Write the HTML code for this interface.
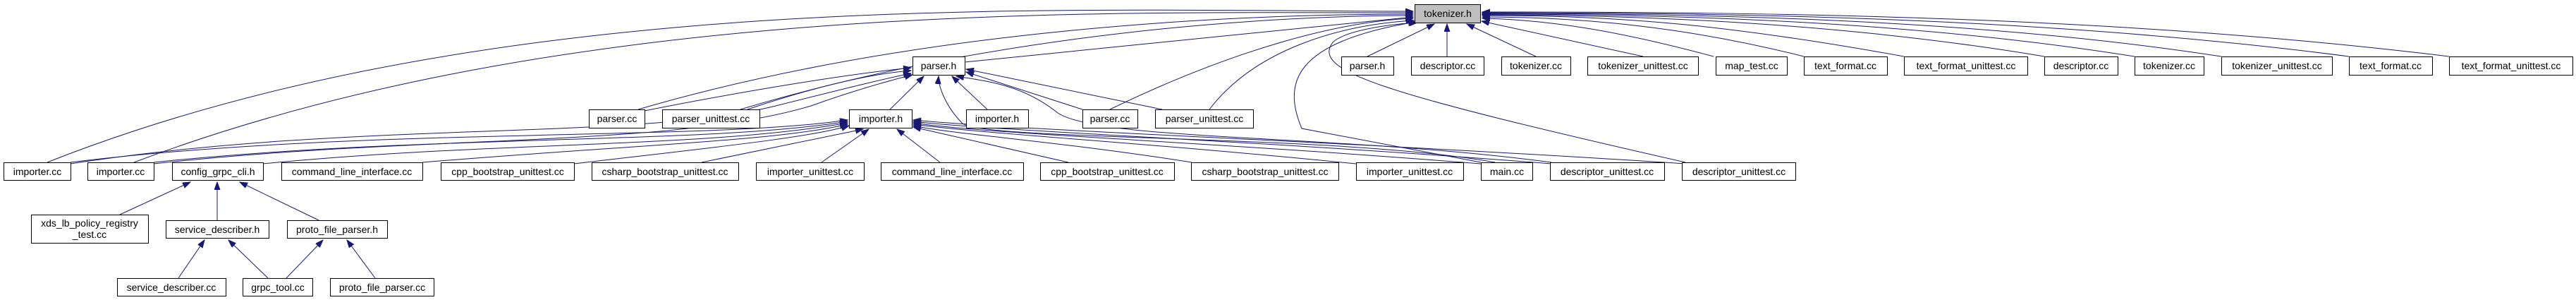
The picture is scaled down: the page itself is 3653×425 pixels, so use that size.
<!DOCTYPE html>
<html><head><meta charset="utf-8"><style>
html,body{margin:0;padding:0;background:#fff;}
svg{display:block;}
text{font-family:"Liberation Sans",sans-serif;font-size:14px;fill:#000;}
</style></head><body>
<svg width="3653" height="425" viewBox="0 0 3653 425" xmlns="http://www.w3.org/2000/svg">
<defs>
<marker id="a" markerWidth="12" markerHeight="10" refX="11" refY="4" orient="auto" markerUnits="userSpaceOnUse">
<path d="M0,0 L11,4 L0,8 Z" fill="#191970" stroke="#191970"/>
</marker>
</defs>
<g fill="none" stroke="#191970" stroke-width="1" marker-end="url(#a)">
<!-- to tokenizer.h left side -->
<path d="M67,230 C700,-20 1500,16 2004,16"/>
<path d="M190,230 C800,0 1550,18 2004,18"/>
<path d="M905,155 C1300,40 1750,20 2004,20"/>
<path d="M1050,155 C1400,50 1780,22 2004,22"/>
<path d="M1368,88 L2004,24"/>
<path d="M1574,155 C1750,70 1900,30 2004,26"/>
<path d="M1715,155 C1780,70 1900,35 2005,29"/>
<path d="M2100,230 L1846,182 C1820,120 1830,60 2008,31"/>
<path d="M2390,230 C1950,130 1860,100 1890,60 C1905,45 1960,35 2010,32"/>
<!-- to tokenizer.h right/bottom -->
<path d="M1939,80 L2034,34"/>
<path d="M2052,80 L2052,34"/>
<path d="M2178,80 L2080,34"/>
<path d="M2330,80 L2101,30"/>
<path d="M2430,80 C2300,45 2200,28 2102,26"/>
<path d="M2558,80 C2400,40 2250,24 2102,24"/>
<path d="M2700,80 C2450,35 2300,22 2102,22"/>
<path d="M2899,80 C2600,30 2300,21 2102,21"/>
<path d="M3027,80 C2700,28 2350,20 2102,20"/>
<path d="M3150,80 C2800,26 2400,19 2102,19"/>
<path d="M3331,80 C2900,24 2450,18 2102,18"/>
<path d="M3473,80 C3000,22 2500,17 2102,17"/>
<!-- to parser.h -->
<path d="M1262,155 L1310,108"/>
<path d="M1400,155 L1350,108"/>
<path d="M1535,155 L1370,102"/>
<path d="M1648,155 L1370,98"/>
<path d="M914,157 C1050,130 1200,105 1292,96"/>
<path d="M1060,155 C1150,125 1230,105 1292,100"/>
<path d="M100,232 C500,170 900,200 1100,150 C1200,125 1260,110 1292,104"/>
<path d="M218,232 C600,190 950,210 1150,150 C1220,125 1270,112 1294,106"/>
<path d="M2120,230 C1900,190 1400,200 1365,175 C1340,150 1330,120 1331,108"/>
<path d="M2200,230 C1900,190 1560,200 1500,160 C1450,120 1400,115 1356,108"/>
<!-- to importer.h -->
<path d="M100,230 C500,180 1000,200 1202,170"/>
<path d="M218,230 C600,190 1000,205 1202,172"/>
<path d="M373,232 C700,200 1000,210 1202,174"/>
<path d="M599,230 C900,205 1100,200 1202,176"/>
<path d="M814,232 C1000,210 1150,195 1204,178"/>
<path d="M995,230 L1224,183"/>
<path d="M1165,230 L1232,183"/>
<path d="M1333,230 L1272,183"/>
<path d="M1515,230 L1295,180"/>
<path d="M1690,230 C1500,200 1350,190 1295,178"/>
<path d="M1923,232 C1600,200 1400,190 1295,176"/>
<path d="M2100,232 C1700,200 1400,190 1295,174"/>
<path d="M2200,232 C1800,200 1400,185 1295,172"/>
<path d="M2390,232 C1900,200 1450,185 1295,170"/>
<!-- config_grpc_cli.h subtree -->
<path d="M170,304 L270,258"/>
<path d="M308,312 L308,258"/>
<path d="M452,312 L340,258"/>
<path d="M253,394 L290,340"/>
<path d="M380,394 L324,340"/>
<path d="M406,394 L458,340"/>
<path d="M532,394 L492,340"/>
</g>
<g stroke="#000" stroke-width="1">
<rect x="2006.5" y="6.5" width="93" height="26" fill="#bfbfbf"/>
</g>
<g fill="#fff" stroke="#000" stroke-width="1">
<rect x="1294.5" y="80.5" width="74" height="26"/>
<rect x="1902.5" y="80.5" width="74" height="26"/>
<rect x="2001.5" y="80.5" width="103" height="26"/>
<rect x="2129.5" y="80.5" width="98" height="26"/>
<rect x="2251.5" y="80.5" width="157" height="26"/>
<rect x="2433.5" y="80.5" width="101" height="26"/>
<rect x="2558.5" y="80.5" width="118" height="26"/>
<rect x="2700.5" y="80.5" width="175" height="26"/>
<rect x="2899.5" y="80.5" width="104" height="26"/>
<rect x="3027.5" y="80.5" width="98" height="26"/>
<rect x="3150.5" y="80.5" width="157" height="26"/>
<rect x="3331.5" y="80.5" width="118" height="26"/>
<rect x="3473.5" y="80.5" width="175" height="26"/>
<rect x="835.5" y="155.5" width="79" height="26"/>
<rect x="939.5" y="155.5" width="138" height="26"/>
<rect x="1204.5" y="155.5" width="89" height="26"/>
<rect x="1370.5" y="155.5" width="88" height="26"/>
<rect x="1535.5" y="155.5" width="78" height="26"/>
<rect x="1638.5" y="155.5" width="139" height="26"/>
<rect x="5.5" y="230.5" width="95" height="25"/>
<rect x="124.5" y="230.5" width="94" height="25"/>
<rect x="244.5" y="230.5" width="129" height="25"/>
<rect x="399.5" y="230.5" width="200" height="25"/>
<rect x="625.5" y="230.5" width="189" height="25"/>
<rect x="839.5" y="230.5" width="208" height="25"/>
<rect x="1072.5" y="230.5" width="153" height="25"/>
<rect x="1249.5" y="230.5" width="202" height="25"/>
<rect x="1475.5" y="230.5" width="190" height="25"/>
<rect x="1689.5" y="230.5" width="209" height="25"/>
<rect x="1923.5" y="230.5" width="152" height="25"/>
<rect x="2100.5" y="230.5" width="73" height="25"/>
<rect x="2198.5" y="230.5" width="162" height="25"/>
<rect x="2385.5" y="230.5" width="161" height="25"/>
<rect x="44.5" y="304.5" width="166" height="40"/>
<rect x="235.5" y="312.5" width="146" height="25"/>
<rect x="407.5" y="312.5" width="142" height="25"/>
<rect x="166.5" y="394.5" width="154" height="25"/>
<rect x="344.5" y="394.5" width="99" height="25"/>
<rect x="468.5" y="394.5" width="147" height="25"/>
</g>
<g text-anchor="middle">
<text x="2053" y="24">tokenizer.h</text>
<text x="1331" y="98">parser.h</text>
<text x="1939" y="98">parser.h</text>
<text x="2053" y="98">descriptor.cc</text>
<text x="2178" y="98">tokenizer.cc</text>
<text x="2330" y="98">tokenizer_unittest.cc</text>
<text x="2484" y="98">map_test.cc</text>
<text x="2617" y="98">text_format.cc</text>
<text x="2788" y="98">text_format_unittest.cc</text>
<text x="2951" y="98">descriptor.cc</text>
<text x="3076" y="98">tokenizer.cc</text>
<text x="3229" y="98">tokenizer_unittest.cc</text>
<text x="3390" y="98">text_format.cc</text>
<text x="3561" y="98">text_format_unittest.cc</text>
<text x="875" y="173">parser.cc</text>
<text x="1008" y="173">parser_unittest.cc</text>
<text x="1249" y="173">importer.h</text>
<text x="1414" y="173">importer.h</text>
<text x="1574" y="173">parser.cc</text>
<text x="1708" y="173">parser_unittest.cc</text>
<text x="53" y="248">importer.cc</text>
<text x="171" y="248">importer.cc</text>
<text x="309" y="248">config_grpc_cli.h</text>
<text x="499" y="248">command_line_interface.cc</text>
<text x="720" y="248">cpp_bootstrap_unittest.cc</text>
<text x="943" y="248">csharp_bootstrap_unittest.cc</text>
<text x="1149" y="248">importer_unittest.cc</text>
<text x="1350" y="248">command_line_interface.cc</text>
<text x="1570" y="248">cpp_bootstrap_unittest.cc</text>
<text x="1794" y="248">csharp_bootstrap_unittest.cc</text>
<text x="1999" y="248">importer_unittest.cc</text>
<text x="2137" y="248">main.cc</text>
<text x="2279" y="248">descriptor_unittest.cc</text>
<text x="2466" y="248">descriptor_unittest.cc</text>
<text x="127" y="321">xds_lb_policy_registry</text>
<text x="127" y="337">_test.cc</text>
<text x="308" y="330">service_describer.h</text>
<text x="478" y="330">proto_file_parser.h</text>
<text x="243" y="412">service_describer.cc</text>
<text x="394" y="412">grpc_tool.cc</text>
<text x="542" y="412">proto_file_parser.cc</text>
</g>
</svg>
</body></html>
